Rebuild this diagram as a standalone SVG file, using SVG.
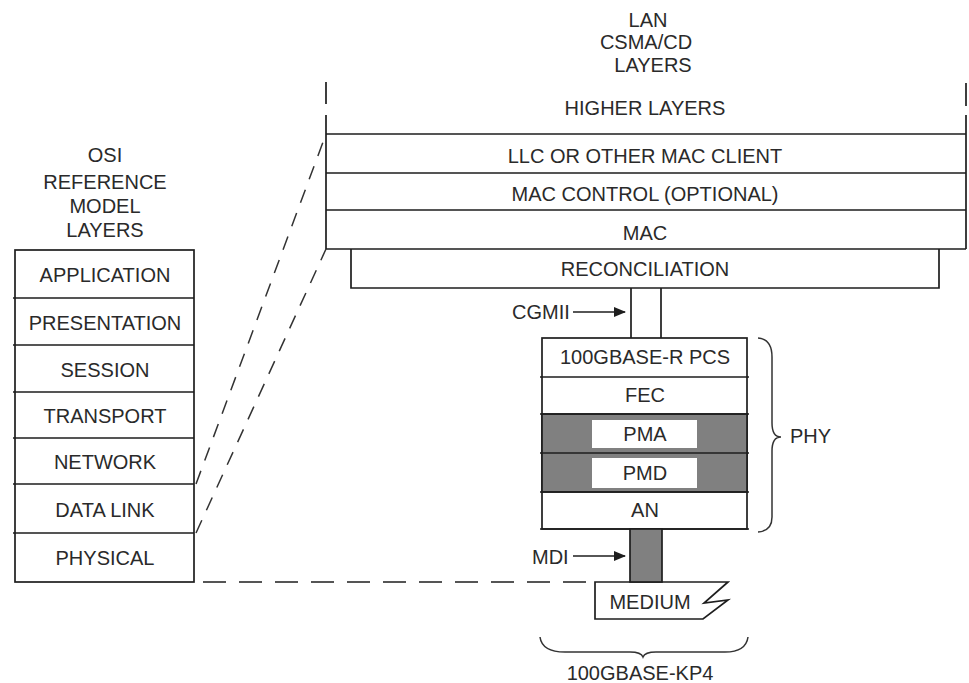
<svg xmlns="http://www.w3.org/2000/svg" width="969" height="683" viewBox="0 0 969 683">
<style>
text{font-family:"Liberation Sans",Arial,sans-serif;font-size:20px;fill:#2a2a2a;text-anchor:middle}
text.s{text-anchor:start}
.ln{stroke:#1e1e1e;stroke-width:1.7;fill:none}
.box{stroke:#1e1e1e;stroke-width:1.7;fill:#fff}
.gray{fill:#808080;stroke:#1e1e1e;stroke-width:1.7}
.dd{stroke:#333;stroke-width:1.5;fill:none;stroke-dasharray:14 11}
.dh{stroke:#1e1e1e;stroke-width:1.7;fill:none;stroke-dasharray:23 13}
.br{stroke:#333;stroke-width:1.5;fill:none}
</style>
<defs>
<marker id="ah" markerWidth="12" markerHeight="10" refX="11" refY="5" orient="auto" markerUnits="userSpaceOnUse">
<path d="M0,0 L12,5 L0,10 Z" fill="#1e1e1e"/>
</marker>
</defs>
<rect width="969" height="683" fill="#fff"/>

<g id="lan-title">
<text x="648" y="27">LAN</text>
<text x="646" y="49">CSMA/CD</text>
<text x="653" y="72">LAYERS</text>
</g>

<g id="osi-title">
<text x="105" y="162">OSI</text>
<text x="105" y="189">REFERENCE</text>
<text x="105" y="213">MODEL</text>
<text x="105" y="237">LAYERS</text>
</g>

<g id="osi-stack">
<rect class="box" x="15" y="250" width="179" height="332"/>
<path class="ln" d="M13,298 H194 M13,345 H194 M13,392 H194 M13,438 H194 M13,484 H194 M13,533 H194"/>
<text x="105" y="282">APPLICATION</text>
<text x="105" y="330">PRESENTATION</text>
<text x="105" y="377">SESSION</text>
<text x="105" y="423">TRANSPORT</text>
<text x="105" y="469">NETWORK</text>
<text x="105" y="517">DATA LINK</text>
<text x="105" y="565">PHYSICAL</text>
</g>

<g id="higher-layers">
<path class="ln" d="M326,82 V104 M966,83 V106"/>
<text x="645" y="115">HIGHER LAYERS</text>
</g>

<g id="lan-stack">
<path class="ln" d="M326,115 V249 M966,115 V249"/>
<path class="ln" d="M326,134 H966 M326,173 H966 M326,210 H966 M326,249 H966"/>
<text x="645" y="163">LLC OR OTHER MAC CLIENT</text>
<text x="645" y="201">MAC CONTROL (OPTIONAL)</text>
<text x="645" y="240">MAC</text>
</g>

<g id="reconciliation">
<path class="ln" d="M351,249 V288 H939 V249"/>
<text x="645" y="276">RECONCILIATION</text>
</g>

<g id="phy-stack">
<rect class="box" x="542" y="338" width="205" height="191"/>
<rect class="gray" x="542" y="414" width="205" height="78"/>
<path class="ln" d="M540,377 H749 M540,414 H749 M540,453 H749 M540,492 H749 M540,529 H749"/>
<rect x="592" y="420" width="105" height="28" fill="#fff"/>
<rect x="592" y="458" width="105" height="30" fill="#fff"/>
<text x="645" y="364">100GBASE-R PCS</text>
<text x="645" y="402">FEC</text>
<text x="645" y="441">PMA</text>
<text x="645" y="480">PMD</text>
<text x="645" y="517">AN</text>
</g>

<g id="phy-label">
<path class="br" d="M758,338 Q772,339 772,357 L772,423 Q772,437 781,437 Q772,437 772,451 L772,517 Q772,531 758,532"/>
<text class="s" x="790" y="443">PHY</text>
</g>

<g id="medium">
<path class="box" d="M595,582 L728,582 L704,603 L728,600 L703,619 L595,619 Z"/>
<text x="650" y="609">MEDIUM</text>
</g>

<g id="kp4-label">
<path class="br" d="M540,637 Q542,652 565,652 L630,652 Q641,652 643,657 Q645,652 656,652 L725,652 Q746,652 748,637"/>
<text x="640" y="680">100GBASE-KP4</text>
</g>

<g id="connectors">
<path class="ln" d="M631,288 V338 M661,288 V338"/>
<rect class="gray" x="630" y="529" width="32" height="53"/>
<text class="s" x="512" y="319">CGMII</text>
<path class="ln" d="M573,312 H625" marker-end="url(#ah)"/>
<text class="s" x="532" y="564">MDI</text>
<path class="ln" d="M573,556 H625" marker-end="url(#ah)"/>
<path class="dd" d="M196,484 L326,134"/>
<path class="dd" d="M196,533 L326,249"/>
<path class="dh" d="M203,582 H595"/>
</g>
</svg>
